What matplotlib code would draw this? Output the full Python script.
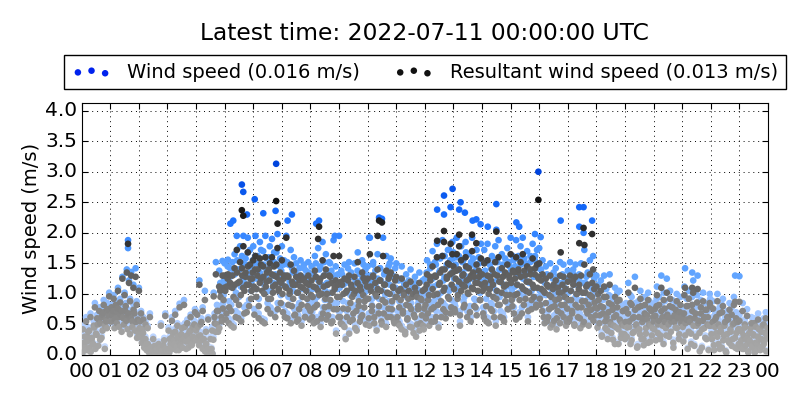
import matplotlib
matplotlib.use('Agg')
import matplotlib.pyplot as plt
from matplotlib.colors import LinearSegmentedColormap
from matplotlib.ticker import MultipleLocator
from matplotlib.transforms import ScaledTranslation
import numpy as np

# wind speed, one list per hour, values evenly spread in the hour
wind_by_hour = [
    [0.10, 0.48, 0.25, 0.15, 0.62, 0.35, 0.10, 0.45, 0.68, 0.30, 0.20, 0.55, 0.85, 0.40, 0.66, 0.18, 0.78, 0.58, 0.32, 0.72, 0.90, 0.14, 0.64, 0.50, 0.76, 1.02],
    [0.60, 0.82, 0.70, 0.98, 0.62, 0.88, 0.75, 1.10, 0.68, 0.92, 0.78, 1.28, 0.66, 1.02, 0.85, 1.40, 0.70, 1.22, 0.92, 1.36, 0.58, 1.15, 0.72, 1.42, 0.88, 0.62],
    [1.10, 0.60, 0.72, 0.45, 0.62, 0.30, 0.55, 0.20, 0.48, 0.12, 0.68, 0.15, 0.08, 0.30, 0.05, 0.18, 0.10, 0.04, 0.22, 0.06, 0.52, 0.12, 0.03, 0.28, 0.68, 0.10],
    [0.08, 0.45, 0.30, 0.15, 0.62, 0.40, 0.22, 0.72, 0.10, 0.52, 0.32, 0.84, 0.18, 0.48, 0.28, 0.90, 0.35, 0.12, 0.58, 0.25, 0.42, 0.66, 0.20, 0.50, 0.30, 0.75],
    [0.45, 0.70, 0.35, 1.22, 0.55, 0.28, 0.78, 0.15, 1.05, 0.42, 0.10, 0.62, 0.05, 0.30, 0.12, 0.02, 1.02, 0.60, 1.52, 0.82, 0.42, 1.38, 1.18, 0.70, 1.54, 0.98],
    [1.50, 0.65, 1.25, 1.56, 0.88, 1.42, 0.55, 1.32, 1.10, 1.65, 0.72, 1.95, 1.40, 0.95, 1.78, 0.60, 1.50, 1.95, 1.18, 1.58, 0.82, 1.92, 1.35, 1.72, 1.05, 1.48],
    [1.78, 0.75, 1.95, 1.25, 1.62, 0.92, 1.85, 1.45, 0.60, 1.70, 1.15, 1.95, 1.38, 0.85, 1.60, 1.78, 1.05, 1.90, 1.30, 1.52, 0.72, 1.68, 1.98, 1.20, 1.45, 0.98],
    [1.78, 0.82, 1.55, 1.30, 1.95, 0.68, 1.48, 1.12, 1.72, 0.92, 1.35, 1.60, 0.78, 1.50, 1.18, 0.65, 1.42, 1.55, 0.95, 1.28, 1.48, 0.72, 1.38, 1.05, 1.52, 0.88],
    [0.82, 1.45, 1.08, 0.58, 1.62, 1.28, 0.95, 1.75, 1.12, 1.45, 0.68, 1.85, 1.30, 0.90, 1.65, 1.18, 0.75, 1.52, 1.02, 1.38, 0.62, 1.88, 1.25, 1.45, 0.85, 1.32],
    [1.95, 0.72, 1.38, 0.55, 1.15, 1.48, 0.30, 1.22, 0.85, 1.52, 0.62, 1.35, 1.08, 0.78, 1.50, 1.22, 0.45, 1.68, 1.00, 1.32, 0.70, 1.55, 1.12, 0.88, 1.40, 1.05],
    [1.45, 0.68, 1.92, 1.20, 0.92, 1.52, 0.60, 1.38, 1.10, 1.65, 0.78, 1.42, 1.22, 0.55, 1.92, 1.32, 0.98, 1.62, 0.70, 1.45, 1.15, 1.58, 0.85, 1.30, 0.62, 1.42],
    [1.50, 0.72, 1.22, 0.55, 1.02, 1.45, 0.80, 1.18, 0.42, 1.32, 0.65, 1.05, 0.90, 1.40, 0.50, 1.15, 0.75, 1.28, 0.35, 1.08, 0.85, 1.35, 0.60, 1.02, 1.22, 0.48],
    [1.25, 0.68, 1.55, 1.02, 0.52, 1.42, 0.85, 1.70, 1.12, 0.62, 1.48, 1.82, 0.95, 1.35, 1.58, 0.70, 1.88, 1.22, 1.62, 0.80, 1.45, 1.72, 1.05, 1.55, 0.90, 1.85],
    [1.68, 0.85, 1.48, 1.92, 1.12, 1.62, 0.72, 1.78, 1.35, 1.55, 0.95, 1.85, 1.42, 1.18, 1.65, 0.80, 1.52, 1.92, 1.25, 1.48, 0.90, 1.72, 1.38, 1.60, 1.02, 1.82],
    [1.55, 0.78, 1.72, 1.28, 0.62, 1.82, 1.15, 1.48, 0.85, 1.62, 1.35, 0.72, 1.78, 1.05, 1.52, 1.88, 0.95, 1.40, 1.65, 0.68, 1.30, 1.58, 1.12, 1.75, 0.85, 1.45],
    [1.92, 1.05, 1.62, 0.78, 1.45, 1.88, 1.15, 1.58, 0.70, 1.78, 1.30, 1.92, 0.95, 1.50, 1.22, 1.70, 0.82, 1.40, 1.62, 1.05, 1.82, 1.28, 1.55, 0.90, 1.72, 1.48],
    [1.75, 0.95, 1.25, 1.55, 0.72, 1.18, 1.45, 0.62, 1.30, 0.85, 1.50, 1.08, 0.58, 1.35, 0.92, 1.42, 0.70, 1.28, 1.05, 1.52, 0.78, 1.18, 1.48, 0.95, 1.25, 0.62],
    [1.38, 0.62, 1.52, 1.05, 0.78, 1.32, 0.55, 1.48, 1.15, 0.90, 1.25, 0.68, 1.50, 1.02, 0.58, 1.72, 1.18, 0.82, 1.35, 0.95, 1.55, 0.70, 1.08, 1.62, 1.25, 0.88],
    [1.30, 0.52, 1.02, 0.75, 1.22, 0.35, 0.90, 1.30, 0.62, 1.08, 0.45, 0.80, 1.32, 0.58, 0.95, 0.28, 0.72, 1.10, 0.50, 0.88, 0.20, 1.05, 0.62, 0.40, 0.82, 0.55],
    [0.30, 0.85, 0.52, 1.18, 0.62, 0.22, 0.95, 0.42, 0.72, 1.28, 0.55, 0.15, 0.88, 0.48, 1.05, 0.30, 0.68, 0.20, 0.95, 0.40, 0.75, 1.02, 0.58, 0.25, 0.82, 0.50],
    [0.62, 0.85, 0.28, 1.12, 0.58, 0.95, 0.38, 1.30, 0.70, 0.22, 0.88, 0.50, 1.25, 0.72, 0.35, 1.05, 0.62, 0.90, 0.15, 0.75, 0.52, 1.00, 0.68, 0.30, 0.80, 0.60],
    [0.72, 0.25, 1.12, 0.60, 0.92, 0.12, 1.05, 0.70, 0.40, 0.95, 1.22, 0.18, 0.78, 0.55, 1.30, 0.65, 0.08, 0.90, 0.48, 1.02, 0.72, 0.32, 0.85, 0.58, 0.10, 1.00],
    [0.55, 0.30, 0.88, 0.10, 0.68, 0.42, 1.00, 0.22, 0.78, 0.50, 0.15, 0.92, 0.38, 0.62, 0.05, 0.72, 0.28, 0.85, 0.45, 0.18, 0.58, 0.95, 0.32, 0.70, 0.12, 0.48],
    [0.65, 0.20, 0.45, 0.85, 0.12, 0.52, 0.30, 0.75, 0.08, 0.42, 0.25, 0.62, 0.15, 0.38, 0.05, 0.55, 0.22, 0.68, 0.30, 0.10, 0.45, 0.18, 0.60, 0.28, 0.70, 0.35],
]

# second pass over the same hours, filling in the denser bands
wind_fill_by_hour = [
    [0.02, 0.18, 0.34, 0.10, 0.25, 0.44, 0.14, 0.06, 0.32, 0.20, 0.50, 0.12, 0.38, 0.56, 0.66, 0.28, 0.70, 0.45, 0.80, 0.54, 0.62, 0.85, 0.72, 0.80],
    [0.72, 0.62, 0.78, 0.50, 0.66, 0.58, 0.84, 0.52, 0.72, 0.44, 0.68, 0.56, 0.80, 0.62, 0.48, 0.74, 0.40, 0.66, 0.52, 0.82, 0.46, 0.60, 0.34, 0.42],
    [0.50, 0.36, 0.24, 0.42, 0.16, 0.30, 0.10, 0.22, 0.05, 0.14, 0.03, 0.08, 0.18, 0.04, 0.12, 0.02, 0.06, 0.16, 0.03, 0.10, 0.20, 0.05, 0.14, 0.08],
    [0.14, 0.05, 0.22, 0.34, 0.12, 0.28, 0.44, 0.18, 0.36, 0.10, 0.24, 0.40, 0.16, 0.32, 0.52, 0.26, 0.38, 0.14, 0.30, 0.46, 0.22, 0.36, 0.56, 0.28],
    [0.30, 0.52, 0.20, 0.38, 0.60, 0.14, 0.32, 0.08, 0.22, 0.04, 0.14, 0.02, 0.08, 0.46, 0.30, 0.68, 0.44, 0.56, 0.80, 0.50, 1.05, 0.62, 0.84, 1.22],
    [1.18, 0.75, 1.45, 0.60, 1.28, 0.82, 1.52, 0.50, 1.32, 1.02, 1.55, 0.68, 1.40, 1.12, 1.62, 1.25, 0.78, 1.48, 1.32, 1.68, 0.90, 1.45, 1.20, 1.55],
    [1.30, 1.62, 1.08, 1.50, 0.68, 1.35, 1.72, 1.22, 1.48, 0.58, 1.28, 1.58, 1.05, 1.42, 0.78, 1.55, 1.18, 1.68, 1.32, 1.48, 0.85, 1.25, 1.58, 1.38],
    [1.15, 1.48, 0.72, 1.28, 1.52, 0.95, 1.20, 0.60, 1.42, 1.05, 0.75, 1.35, 0.62, 1.18, 0.85, 1.30, 0.55, 1.08, 1.42, 0.70, 1.22, 0.92, 1.35, 0.65],
    [1.12, 0.70, 1.32, 0.88, 1.50, 0.62, 1.22, 1.40, 0.52, 1.15, 0.78, 1.52, 1.05, 0.65, 1.35, 0.90, 1.50, 0.60, 1.18, 0.85, 1.30, 0.40, 1.08, 0.72],
    [1.10, 0.60, 1.32, 0.88, 0.52, 1.18, 0.72, 1.42, 0.40, 0.98, 1.28, 0.65, 1.15, 0.50, 0.82, 1.38, 0.92, 0.62, 1.22, 0.75, 1.48, 1.02, 0.58, 1.30],
    [1.08, 0.55, 1.30, 0.82, 1.48, 0.70, 1.15, 0.45, 1.25, 0.92, 1.42, 0.62, 1.05, 0.78, 1.35, 0.52, 1.18, 0.88, 1.50, 0.72, 1.00, 1.28, 0.58, 1.10],
    [1.08, 0.60, 0.88, 1.25, 0.48, 0.78, 1.12, 0.38, 0.95, 0.68, 1.22, 0.52, 0.85, 1.10, 0.42, 0.72, 1.18, 0.58, 0.92, 0.45, 1.05, 0.75, 0.55, 0.88],
    [0.95, 1.35, 0.78, 1.12, 1.48, 0.62, 1.25, 0.88, 1.52, 0.72, 1.15, 0.50, 1.38, 1.02, 1.62, 0.85, 1.28, 0.68, 1.48, 1.10, 1.72, 0.78, 1.35, 1.58],
    [1.25, 0.80, 1.60, 1.05, 1.40, 0.55, 1.22, 1.52, 0.88, 1.30, 1.68, 0.72, 1.15, 1.45, 0.62, 1.28, 1.58, 0.92, 1.38, 0.75, 1.22, 1.50, 1.02, 1.35],
    [1.20, 0.70, 1.38, 0.92, 1.52, 0.60, 1.25, 1.42, 0.82, 1.10, 1.55, 0.55, 1.22, 0.95, 1.40, 0.72, 1.18, 1.48, 0.62, 1.02, 1.32, 0.85, 1.52, 1.12],
    [1.38, 0.92, 1.55, 1.12, 0.65, 1.32, 1.62, 1.02, 1.48, 0.78, 1.25, 1.58, 1.05, 1.38, 0.62, 1.18, 1.52, 0.85, 1.32, 1.10, 1.62, 0.95, 1.28, 1.42],
    [1.05, 1.40, 0.82, 1.22, 0.60, 0.98, 1.32, 0.72, 1.12, 0.52, 0.88, 1.25, 0.65, 1.02, 0.48, 0.82, 1.18, 0.60, 0.95, 1.32, 0.72, 1.10, 0.55, 0.88],
    [1.02, 0.68, 1.22, 0.82, 1.40, 0.58, 0.95, 1.15, 0.72, 1.32, 0.50, 0.90, 1.18, 0.62, 1.02, 1.28, 0.78, 0.55, 1.12, 0.85, 1.35, 0.65, 1.00, 0.75],
    [0.88, 1.15, 0.60, 0.92, 0.38, 0.78, 1.08, 0.50, 0.72, 0.30, 0.98, 0.62, 0.42, 0.85, 0.55, 0.22, 0.75, 1.02, 0.48, 0.68, 0.32, 0.58, 0.82, 0.40],
    [0.62, 0.35, 0.78, 0.52, 0.98, 0.28, 0.68, 0.45, 0.85, 0.58, 0.18, 0.72, 0.40, 0.92, 0.62, 0.30, 0.78, 0.50, 0.68, 0.25, 0.88, 0.55, 0.38, 0.72],
    [0.48, 0.72, 0.92, 0.42, 0.65, 0.30, 0.82, 0.55, 1.02, 0.62, 0.38, 0.75, 0.58, 0.92, 0.45, 0.70, 0.25, 0.62, 0.85, 0.50, 0.72, 0.40, 0.95, 0.65],
    [0.52, 0.78, 0.38, 0.68, 0.92, 0.45, 0.62, 0.22, 0.82, 0.55, 0.70, 0.35, 0.98, 0.60, 0.42, 0.78, 0.15, 0.65, 0.50, 0.85, 0.30, 0.72, 0.55, 0.92],
    [0.40, 0.62, 0.20, 0.52, 0.72, 0.35, 0.58, 0.12, 0.45, 0.82, 0.28, 0.55, 0.08, 0.40, 0.68, 0.25, 0.50, 0.78, 0.32, 0.60, 0.15, 0.42, 0.62, 0.22],
    [0.48, 0.28, 0.12, 0.38, 0.58, 0.20, 0.34, 0.05, 0.28, 0.50, 0.18, 0.40, 0.60, 0.25, 0.10, 0.36, 0.48, 0.14, 0.30, 0.55, 0.22, 0.42, 0.08, 0.50],
]

# resultant wind speed, same layout
resultant_by_hour = [
    [0.05, 0.42, 0.20, 0.12, 0.55, 0.30, 0.08, 0.40, 0.62, 0.25, 0.18, 0.48, 0.78, 0.35, 0.60, 0.15, 0.72, 0.52, 0.28, 0.66, 0.82, 0.10, 0.58, 0.44, 0.70, 0.96],
    [0.55, 0.78, 0.66, 0.92, 0.58, 0.82, 0.70, 1.05, 0.62, 0.86, 0.72, 1.25, 0.60, 0.98, 0.80, 1.35, 0.65, 1.18, 0.88, 1.30, 0.55, 1.10, 0.68, 1.28, 0.82, 0.58],
    [1.05, 0.55, 0.68, 0.42, 0.58, 0.26, 0.50, 0.18, 0.44, 0.10, 0.62, 0.12, 0.06, 0.26, 0.04, 0.15, 0.08, 0.03, 0.18, 0.05, 0.48, 0.10, 0.02, 0.24, 0.64, 0.08],
    [0.06, 0.40, 0.26, 0.12, 0.56, 0.36, 0.18, 0.66, 0.08, 0.48, 0.28, 0.78, 0.15, 0.44, 0.24, 0.82, 0.30, 0.10, 0.52, 0.22, 0.38, 0.62, 0.16, 0.46, 0.26, 0.70],
    [0.40, 0.66, 0.30, 1.15, 0.50, 0.24, 0.72, 0.12, 0.90, 0.38, 0.08, 0.58, 0.04, 0.26, 0.10, 0.02, 0.96, 0.52, 1.32, 0.72, 0.38, 1.12, 1.05, 0.62, 1.30, 0.90],
    [1.30, 0.58, 1.12, 1.32, 0.78, 1.18, 0.48, 1.10, 0.95, 1.42, 0.62, 1.72, 1.18, 0.82, 1.52, 0.55, 1.30, 1.78, 1.05, 1.35, 0.70, 1.68, 1.15, 1.48, 0.92, 1.25],
    [1.55, 0.66, 1.62, 1.08, 1.40, 0.80, 1.58, 1.25, 0.55, 1.45, 1.00, 1.60, 1.20, 0.75, 1.40, 1.50, 0.92, 1.60, 1.12, 1.30, 0.62, 1.48, 1.75, 1.05, 1.22, 0.85],
    [1.55, 0.70, 1.30, 1.12, 1.92, 0.60, 1.28, 1.00, 1.48, 0.80, 1.15, 1.38, 0.66, 1.28, 1.02, 0.58, 1.22, 1.30, 0.82, 1.10, 1.25, 0.62, 1.18, 0.92, 1.30, 0.76],
    [0.72, 1.22, 0.95, 0.52, 1.38, 1.10, 0.82, 1.90, 0.98, 1.25, 0.60, 1.55, 1.12, 0.78, 1.40, 1.00, 0.65, 1.30, 0.90, 1.18, 0.55, 1.62, 1.08, 1.22, 0.75, 1.15],
    [1.62, 0.62, 1.20, 0.50, 1.00, 1.25, 0.26, 1.05, 0.75, 1.30, 0.55, 1.15, 0.95, 0.68, 1.28, 1.05, 0.40, 1.52, 0.88, 1.12, 0.62, 1.35, 0.98, 0.78, 1.20, 0.92],
    [1.25, 0.60, 1.65, 1.05, 0.80, 1.30, 0.52, 1.18, 0.96, 1.40, 0.68, 1.22, 1.05, 0.50, 1.62, 1.15, 0.86, 1.38, 0.62, 1.25, 1.00, 1.35, 0.75, 1.12, 0.55, 1.22],
    [1.28, 0.62, 1.05, 0.48, 0.90, 1.25, 0.72, 1.02, 0.38, 1.15, 0.58, 0.92, 0.80, 1.20, 0.45, 1.00, 0.66, 1.10, 0.30, 0.95, 0.75, 1.18, 0.52, 0.90, 1.05, 0.42],
    [1.08, 0.60, 1.32, 0.90, 0.48, 1.22, 0.75, 1.45, 0.98, 0.55, 1.28, 1.60, 0.82, 1.15, 1.35, 0.62, 1.62, 1.05, 1.40, 0.70, 1.25, 1.50, 0.92, 1.32, 0.78, 1.65],
    [1.45, 0.75, 1.25, 1.65, 0.98, 1.40, 0.65, 1.55, 1.15, 1.32, 0.82, 1.60, 1.22, 1.02, 1.42, 0.70, 1.30, 1.70, 1.08, 1.28, 0.78, 1.48, 1.18, 1.38, 0.90, 1.58],
    [1.32, 0.68, 1.50, 1.10, 0.55, 1.55, 1.00, 1.28, 0.75, 1.40, 1.15, 0.62, 1.52, 0.92, 1.30, 1.60, 0.82, 1.20, 1.42, 0.60, 1.12, 1.35, 0.98, 1.48, 0.75, 1.25],
    [1.65, 0.90, 1.38, 0.68, 1.25, 1.60, 1.00, 1.35, 0.62, 1.52, 1.12, 1.65, 0.82, 1.30, 1.05, 1.45, 0.72, 1.20, 1.40, 0.90, 1.58, 1.10, 1.32, 0.78, 1.48, 1.28],
    [1.50, 0.82, 1.08, 1.32, 0.62, 1.02, 1.25, 0.55, 1.12, 0.75, 1.30, 0.95, 0.50, 1.15, 0.80, 1.22, 0.60, 1.10, 0.92, 1.30, 0.68, 1.02, 1.28, 0.82, 1.08, 0.55],
    [1.20, 0.55, 1.30, 0.90, 0.68, 1.15, 0.48, 1.28, 1.00, 0.78, 1.08, 0.60, 1.30, 0.88, 0.50, 1.48, 1.02, 0.72, 1.15, 0.82, 1.32, 0.62, 0.95, 1.40, 1.08, 0.78],
    [1.12, 0.45, 0.90, 0.65, 1.05, 0.30, 0.78, 1.12, 0.55, 0.95, 0.40, 0.70, 1.15, 0.50, 0.82, 0.25, 0.62, 0.95, 0.45, 0.78, 0.18, 0.90, 0.55, 0.35, 0.72, 0.48],
    [0.26, 0.75, 0.45, 1.02, 0.55, 0.18, 0.82, 0.36, 0.62, 1.10, 0.48, 0.12, 0.78, 0.42, 0.92, 0.26, 0.60, 0.16, 0.82, 0.35, 0.65, 0.90, 0.50, 0.22, 0.72, 0.44],
    [0.55, 0.75, 0.24, 0.98, 0.50, 0.82, 0.32, 1.10, 0.62, 0.18, 0.76, 0.44, 1.02, 0.62, 0.30, 0.92, 0.55, 0.78, 0.12, 0.65, 0.45, 0.88, 0.60, 0.26, 0.70, 0.52],
    [0.62, 0.22, 0.98, 0.52, 0.80, 0.10, 0.92, 0.60, 0.35, 0.82, 1.02, 0.15, 0.68, 0.48, 1.08, 0.56, 0.06, 0.78, 0.42, 0.88, 0.62, 0.28, 0.74, 0.50, 0.08, 0.85],
    [0.48, 0.26, 0.76, 0.08, 0.58, 0.36, 0.88, 0.18, 0.68, 0.44, 0.12, 0.80, 0.32, 0.54, 0.04, 0.62, 0.24, 0.74, 0.38, 0.15, 0.50, 0.82, 0.28, 0.60, 0.10, 0.42],
    [0.56, 0.16, 0.38, 0.72, 0.10, 0.45, 0.26, 0.64, 0.06, 0.36, 0.20, 0.52, 0.12, 0.32, 0.04, 0.46, 0.18, 0.58, 0.25, 0.08, 0.38, 0.14, 0.50, 0.24, 0.60, 0.30],
]

resultant_fill_by_hour = [
    [0.02, 0.15, 0.30, 0.08, 0.22, 0.38, 0.12, 0.05, 0.28, 0.18, 0.45, 0.10, 0.33, 0.50, 0.58, 0.25, 0.62, 0.40, 0.70, 0.48, 0.55, 0.75, 0.65, 0.72],
    [0.65, 0.55, 0.72, 0.44, 0.60, 0.52, 0.76, 0.46, 0.66, 0.38, 0.62, 0.50, 0.72, 0.56, 0.42, 0.68, 0.34, 0.60, 0.46, 0.74, 0.40, 0.54, 0.28, 0.36],
    [0.44, 0.30, 0.20, 0.36, 0.12, 0.26, 0.08, 0.18, 0.04, 0.10, 0.02, 0.06, 0.14, 0.03, 0.10, 0.01, 0.05, 0.12, 0.02, 0.08, 0.16, 0.04, 0.10, 0.06],
    [0.10, 0.04, 0.18, 0.28, 0.10, 0.24, 0.38, 0.14, 0.30, 0.08, 0.20, 0.34, 0.12, 0.26, 0.46, 0.22, 0.32, 0.12, 0.25, 0.40, 0.18, 0.30, 0.50, 0.24],
    [0.25, 0.46, 0.16, 0.32, 0.54, 0.10, 0.26, 0.06, 0.18, 0.03, 0.10, 0.01, 0.06, 0.40, 0.25, 0.62, 0.38, 0.50, 0.72, 0.44, 0.95, 0.55, 0.76, 1.10],
    [1.05, 0.68, 1.25, 0.52, 1.12, 0.72, 1.30, 0.45, 1.15, 0.90, 1.35, 0.60, 1.20, 0.98, 1.42, 1.10, 0.68, 1.28, 1.15, 1.45, 0.80, 1.25, 1.05, 1.35],
    [1.12, 1.40, 0.95, 1.30, 0.60, 1.18, 1.48, 1.05, 1.28, 0.52, 1.12, 1.35, 0.92, 1.22, 0.68, 1.32, 1.02, 1.45, 1.15, 1.28, 0.75, 1.08, 1.35, 1.18],
    [1.00, 1.25, 0.62, 1.10, 1.30, 0.82, 1.05, 0.52, 1.20, 0.92, 0.65, 1.15, 0.55, 1.02, 0.75, 1.12, 0.48, 0.95, 1.22, 0.62, 1.05, 0.80, 1.15, 0.58],
    [0.98, 0.62, 1.12, 0.78, 1.28, 0.55, 1.05, 1.20, 0.46, 1.00, 0.68, 1.30, 0.92, 0.58, 1.15, 0.80, 1.28, 0.52, 1.02, 0.75, 1.12, 0.35, 0.95, 0.62],
    [0.95, 0.52, 1.15, 0.76, 0.46, 1.02, 0.62, 1.22, 0.35, 0.85, 1.10, 0.58, 1.00, 0.44, 0.72, 1.18, 0.80, 0.55, 1.05, 0.65, 1.26, 0.88, 0.50, 1.12],
    [0.92, 0.48, 1.12, 0.72, 1.28, 0.62, 1.00, 0.40, 1.08, 0.80, 1.22, 0.55, 0.90, 0.68, 1.15, 0.46, 1.02, 0.76, 1.30, 0.62, 0.88, 1.10, 0.52, 0.95],
    [0.95, 0.52, 0.78, 1.08, 0.42, 0.68, 0.98, 0.34, 0.82, 0.60, 1.05, 0.46, 0.75, 0.95, 0.36, 0.62, 1.02, 0.50, 0.80, 0.40, 0.92, 0.65, 0.48, 0.76],
    [0.82, 1.15, 0.68, 0.98, 1.28, 0.55, 1.08, 0.78, 1.30, 0.62, 1.00, 0.45, 1.18, 0.88, 1.40, 0.75, 1.10, 0.60, 1.28, 0.95, 1.48, 0.68, 1.15, 1.35],
    [1.08, 0.70, 1.38, 0.92, 1.20, 0.48, 1.05, 1.30, 0.78, 1.12, 1.45, 0.62, 1.00, 1.25, 0.55, 1.10, 1.35, 0.80, 1.18, 0.65, 1.05, 1.28, 0.90, 1.15],
    [1.05, 0.62, 1.18, 0.80, 1.30, 0.52, 1.08, 1.22, 0.72, 0.95, 1.32, 0.48, 1.05, 0.82, 1.20, 0.62, 1.02, 1.28, 0.55, 0.88, 1.15, 0.75, 1.30, 0.98],
    [1.18, 0.80, 1.35, 0.98, 0.58, 1.15, 1.40, 0.90, 1.28, 0.68, 1.08, 1.38, 0.92, 1.20, 0.55, 1.02, 1.32, 0.75, 1.15, 0.95, 1.42, 0.82, 1.10, 1.25],
    [0.92, 1.22, 0.72, 1.05, 0.52, 0.85, 1.15, 0.62, 0.98, 0.45, 0.78, 1.08, 0.56, 0.90, 0.42, 0.72, 1.02, 0.52, 0.82, 1.15, 0.62, 0.95, 0.48, 0.76],
    [0.90, 0.60, 1.05, 0.72, 1.22, 0.50, 0.82, 1.00, 0.62, 1.15, 0.44, 0.78, 1.02, 0.54, 0.88, 1.12, 0.68, 0.48, 0.98, 0.74, 1.18, 0.56, 0.86, 0.65],
    [0.76, 1.00, 0.52, 0.80, 0.32, 0.68, 0.95, 0.44, 0.62, 0.26, 0.85, 0.54, 0.36, 0.74, 0.48, 0.18, 0.65, 0.88, 0.42, 0.58, 0.28, 0.50, 0.72, 0.34],
    [0.54, 0.30, 0.68, 0.46, 0.85, 0.24, 0.60, 0.38, 0.74, 0.50, 0.14, 0.62, 0.34, 0.80, 0.54, 0.26, 0.68, 0.44, 0.58, 0.20, 0.76, 0.48, 0.32, 0.62],
    [0.42, 0.64, 0.80, 0.36, 0.56, 0.26, 0.72, 0.48, 0.90, 0.54, 0.32, 0.66, 0.50, 0.80, 0.38, 0.60, 0.20, 0.54, 0.74, 0.44, 0.62, 0.34, 0.82, 0.56],
    [0.46, 0.68, 0.32, 0.58, 0.80, 0.38, 0.54, 0.18, 0.72, 0.48, 0.60, 0.30, 0.86, 0.52, 0.36, 0.68, 0.12, 0.56, 0.44, 0.74, 0.26, 0.62, 0.48, 0.80],
    [0.34, 0.54, 0.16, 0.46, 0.62, 0.30, 0.50, 0.10, 0.38, 0.70, 0.24, 0.48, 0.06, 0.34, 0.58, 0.20, 0.42, 0.66, 0.26, 0.52, 0.12, 0.36, 0.54, 0.18],
    [0.42, 0.24, 0.10, 0.32, 0.50, 0.16, 0.28, 0.04, 0.24, 0.44, 0.14, 0.34, 0.52, 0.20, 0.08, 0.30, 0.42, 0.12, 0.26, 0.48, 0.18, 0.36, 0.06, 0.44],
]

# the isolated high readings, placed by hand
wind_peak_t = [1.62, 1.62, 5.2, 5.3, 5.6, 5.65, 5.78, 6.05, 6.35, 6.8, 6.78, 7.2, 7.35, 8.2, 8.3, 8.85, 10.05, 10.4, 10.5,
               12.43, 12.67, 12.67, 12.9, 12.97, 13.2, 13.25, 13.4, 13.67, 13.8, 13.95, 14.2, 14.5, 14.5, 15.2, 15.3,
               15.85, 15.97, 16.05, 16.75, 17.4, 17.4, 17.55, 17.55, 17.85, 21.1, 21.35, 22.85, 23.0]
wind_peak_v = [1.88, 1.75, 2.15, 2.2, 2.79, 2.67, 2.30, 2.55, 2.32, 3.13, 2.36, 2.2, 2.3, 2.15, 2.2, 1.95, 1.92, 2.25, 2.23,
               2.38, 2.61, 2.30, 2.42, 2.72, 2.38, 2.50, 2.33, 2.2, 2.22, 2.14, 2.1, 2.47, 2.05, 2.17, 2.1,
               1.98, 3.0, 1.93, 2.2, 2.42, 2.1, 2.42, 2.0, 2.2, 1.42, 1.35, 1.3, 1.29]
result_peak_t = [1.62, 5.6, 5.65, 6.8, 6.85, 8.3, 10.35, 10.4, 10.5, 12.43, 12.67, 12.67, 12.9, 13.2, 13.2, 13.65,
                 13.8, 14.5, 15.97, 16.75, 17.4, 17.55, 17.58, 17.85, 21.1, 21.35, 22.85, 23.0]
result_peak_v = [1.82, 2.37, 2.28, 2.52, 2.15, 2.1, 1.95, 2.2, 2.17, 1.87, 2.03, 1.85, 1.82, 1.97, 1.78, 1.97,
                 1.83, 2.02, 2.54, 1.68, 1.83, 2.08, 1.8, 1.98, 1.1, 1.1, 0.87, 0.87]

hour_labels = ['%02d' % (h % 24) for h in range(25)]
legend_labels = ['Wind speed (0.016 m/s)', 'Resultant wind speed (0.013 m/s)']


def flatten(by_hour, fill_by_hour, peak_t, peak_v):
    t, v = [], []
    for h, vals in enumerate(by_hour):
        for i, val in enumerate(vals):
            t.append(h + i / len(vals))
            v.append(val)
    for h, vals in enumerate(fill_by_hour):
        for i, val in enumerate(vals):
            t.append(h + (i + 0.5) / len(vals))
            v.append(val)
    t = np.array(t + peak_t)
    v = np.array(v + peak_v)
    order = np.argsort(t)  # drawn in time order, so bands mix like the original
    return t[order], v[order]


def speed_cmap(name, stops):
    return LinearSegmentedColormap.from_list(name, [(s / 3.0, c) for s, c in stops])


blue = speed_cmap('blue', [(0, '#cfe0ff'), (0.5, '#b0ceff'), (0.9, '#8ebcff'), (1.2, '#66a8ff'),
                           (1.8, '#4a96ff'), (2.1, '#2277ff'), (2.5, '#0f62f5'), (3, '#0044dd')])
grey = speed_cmap('grey', [(0, '#a8a8a8'), (0.45, '#a0a0a0'), (0.55, '#8c8c8c'), (0.9, '#808080'),
                           (1.05, '#686868'), (1.4, '#5c5c5c'), (1.6, '#3c3c3c'), (2, '#2c2c2c'),
                           (2.5, '#111111'), (3, '#000000')])

fig = plt.figure(figsize=(8, 4), dpi=100)
ax = fig.add_axes([81.7 / 800, 1 - 355 / 400, (768 - 81.7) / 800, (355 - 102.7) / 400])

t, v = flatten(wind_by_hour, wind_fill_by_hour, wind_peak_t, wind_peak_v)
ax.scatter(t, v, c=v, cmap=blue, vmin=0, vmax=3, s=23, linewidths=0, zorder=3)
t, v = flatten(resultant_by_hour, resultant_fill_by_hour, result_peak_t, result_peak_v)
ax.scatter(t, v, c=v, cmap=grey, vmin=0, vmax=3, s=23, linewidths=0, zorder=4)

ax.set_xlim(0, 24)
ax.set_ylim(0, 4.13)
ax.set_xticks(range(25))
ax.set_xticklabels(hour_labels)
ax.yaxis.set_major_locator(MultipleLocator(0.5))
ax.grid(True, color='k', linestyle=(0, (1, 4)), linewidth=0.7, zorder=0)
ax.set_axisbelow(True)
ax.tick_params(direction='in', top=True, right=True, labelsize=14.5, length=4)
ax.tick_params(axis='x', pad=5)
ax.tick_params(axis='y', pad=3)
for lab in ax.get_yticklabels():
    lab.set_transform(lab.get_transform() + ScaledTranslation(0, 1.5 / 72, fig.dpi_scale_trans))
ax.set_ylabel('Wind speed (m/s)', fontsize=14, labelpad=3)
fig.text(0.531, 0.915, 'Latest time: 2022-07-11 00:00:00 UTC', ha='center', va='center', fontsize=16.8)

handles = [
    ax.scatter([], [], c='#0022ee', s=22, linewidths=0),
    ax.scatter([], [], c='#111111', s=22, linewidths=0),
]
leg = fig.legend(handles, legend_labels, loc='center', bbox_to_anchor=(425 / 800, 1 - 72 / 400),
                 ncol=2, scatterpoints=3, fontsize=14, fancybox=False, framealpha=1,
                 edgecolor='k', borderpad=0.4, columnspacing=1.75, handletextpad=0.85)
leg.get_frame().set_linewidth(1)

fig.savefig('out.png', dpi=100)
